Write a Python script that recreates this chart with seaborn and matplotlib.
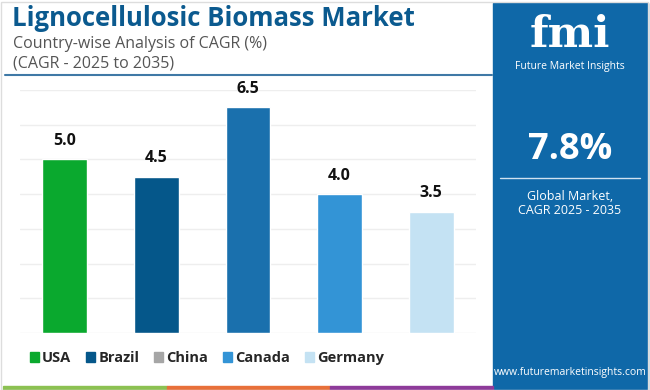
import matplotlib
matplotlib.use("Agg")
import matplotlib.pyplot as plt
import matplotlib.patches as mpatches
import seaborn as sns
import pandas as pd

# ---------------------------------------------
# Data
# ---------------------------------------------
countries = ["USA", "Brazil", "China", "Canada", "Germany"]
cagr = [5.0, 4.5, 6.5, 4.0, 3.5]
bar_colors = ["#0aa92e", "#05578a", "#1a70ad", "#3394d6", "#c4e2f3"]
legend_colors = ["#0aa92e", "#05578a", "#a6a6a6", "#3394d6", "#c4e2f3"]
global_cagr = "7.8%"

df = pd.DataFrame({"country": countries, "cagr": cagr})

sns.set_theme(style="white")
plt.rcParams["font.family"] = ["Open Sans", "DejaVu Sans"]

fig = plt.figure(figsize=(6.5, 3.9), dpi=100)
ax = fig.add_axes([20/650, 1-333/390, 456/650, 243/390])

sns.barplot(data=df, x="country", y="cagr", hue="country", palette=bar_colors,
            width=0.49, legend=False, ax=ax, saturation=1)

ax.set_ylim(0, 7)
ax.set_xlim(-0.49, 4.49)
ax.set_yticks(range(0, 8))
ax.yaxis.grid(True, color="#eeeeee", lw=1)
ax.set_axisbelow(True)
ax.tick_params(left=False, bottom=False, labelleft=False, labelbottom=False)
ax.set_xlabel("")
ax.set_ylabel("")
for s in ax.spines.values():
    s.set_visible(False)

for i, v in enumerate(cagr):
    ax.text(i, v + 0.3, f"{v:.1f}", ha="center", va="bottom",
            fontsize=11.5, fontweight="bold", color="#111111")

# legend
handles = [mpatches.Patch(color=c, label=n) for c, n in zip(legend_colors, countries)]
fig.legend(handles=handles, loc="center", bbox_to_anchor=(207/650, 1-358/390),
           ncol=5, frameon=False, handlelength=0.6, handleheight=0.75,
           handletextpad=0.25, columnspacing=1.0,
           prop={"size": 10.5, "weight": "bold"})

# titles
fig.text(12/650, 1-18/390, "Lignocellulosic Biomass Market", fontsize=18.5,
         fontweight="bold", color="#0b5a8f", va="center", ha="left")
fig.text(13/650, 1-44/390, "Country-wise Analysis of CAGR (%)", fontsize=11.5,
         color="#555555", va="center", ha="left")
fig.text(13/650, 1-64/390, "(CAGR - 2025 to 2035)", fontsize=11.5,
         color="#555555", va="center", ha="left")
fig.add_artist(plt.Line2D([5/650, 492/650], [1-75/390, 1-75/390],
                          color="#3f79a6", lw=1.5))

# right panel
fig.add_artist(mpatches.Rectangle((493/650, 0), 155/650, 387/390,
                                  color="#0f68a8", transform=fig.transFigure))
fig.text(570/650, 1-35/390, "fmi", fontsize=31, fontweight="bold",
         color="white", ha="center", va="center", family="DejaVu Serif")
fig.text(570/650, 1-67/390, "Future Market Insights", fontsize=7.5,
         color="white", ha="center", va="center")
fig.text(570/650, 1-150/390, global_cagr, fontsize=26, fontweight="bold",
         color="white", ha="center", va="center")
fig.add_artist(plt.Line2D([500/650, 640/650], [1-178/390, 1-178/390],
                          color="#d0e2f0", lw=1))
fig.text(570/650, 1-196/390, "Global Market,", fontsize=9,
         color="white", ha="center", va="center")
fig.text(570/650, 1-211/390, "CAGR 2025 - 2035", fontsize=9,
         color="white", ha="center", va="center")
fig.text(570/650, 1-372/390, "www.futuremarketinsights.com", fontsize=7.5,
         color="white", ha="center", va="center")

# bottom stripes
for x0, x1, c in [(3, 167, "#8cc152"), (167, 330, "#e8703a"), (330, 493, "#8e3b9a")]:
    fig.add_artist(mpatches.Rectangle((x0/650, 0), (x1-x0)/650, 4/390,
                                      color=c, transform=fig.transFigure))
# frame
fig.add_artist(mpatches.Rectangle((1/650, 0), 647/650, 388/390, fill=False,
                                  edgecolor="#dddddd", lw=1, transform=fig.transFigure))

fig.savefig("out.png", dpi=100)
